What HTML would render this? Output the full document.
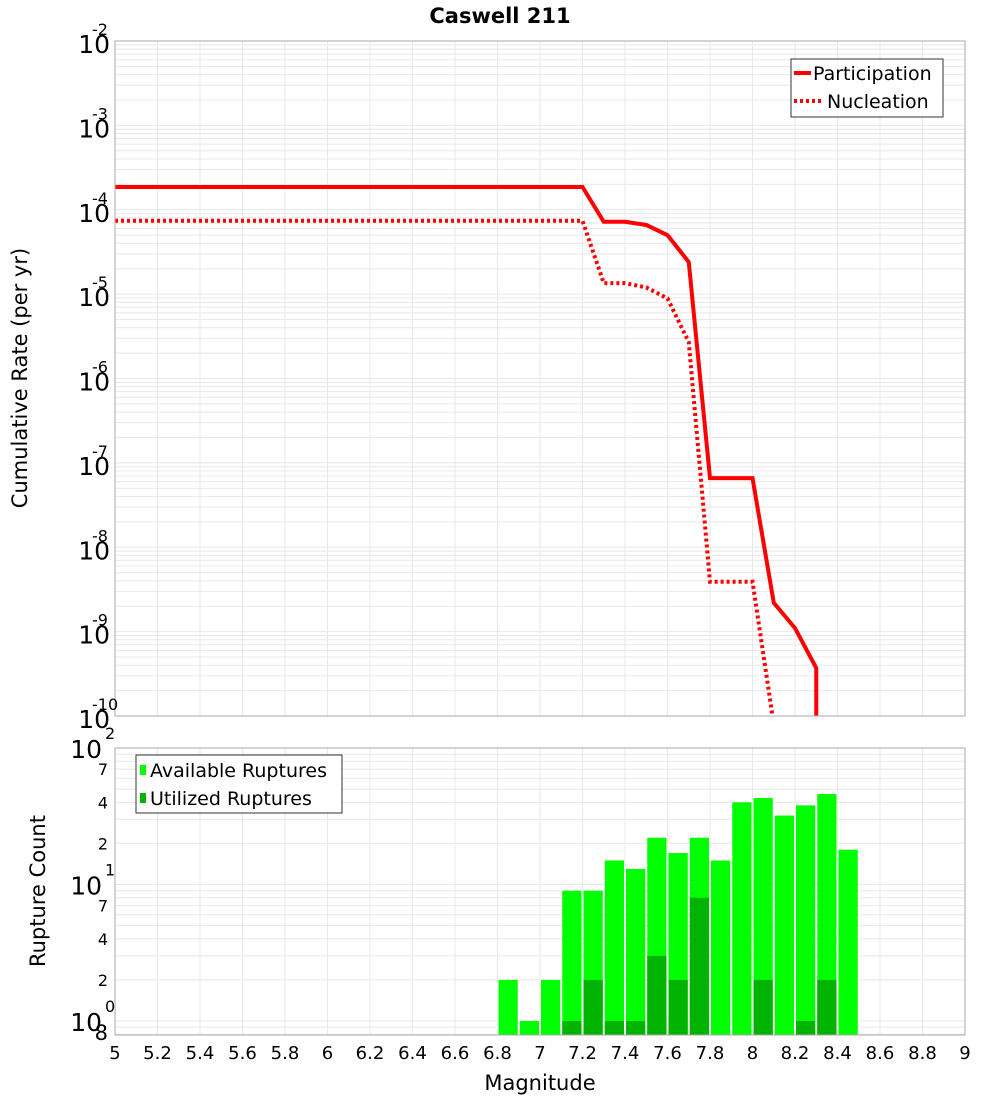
<!DOCTYPE html>
<html><head><meta charset="utf-8"><style>
body{margin:0;background:#fff;font-family:"Liberation Sans","DejaVu Sans",sans-serif}
svg text{font-family:"DejaVu Sans","Liberation Sans",sans-serif}
</style></head><body>
<svg id="c" width="1000" height="1100" xmlns="http://www.w3.org/2000/svg">
<text x="500" y="23" text-anchor="middle" font-size="21" font-weight="bold">Caswell 211</text>
<text transform="translate(27,378) rotate(-90)" text-anchor="middle" font-size="21">Cumulative Rate (per yr)</text>
<text transform="translate(45,891) rotate(-90)" text-anchor="middle" font-size="21">Rupture Count</text>
<text x="540" y="1090" text-anchor="middle" font-size="21">Magnitude</text>
<g id="g"></g>
</svg>
<script>
const mags=[5,7.2,7.3,7.4,7.5,7.6,7.7,7.8,7.9,8.0,8.1,8.2,8.3];
const partRate=[1.86e-4,1.86e-4,7.2e-5,7.2e-5,6.6e-5,5.0e-5,2.4e-5,6.6e-8,6.6e-8,6.6e-8,2.2e-9,1.1e-9,3.7e-10];
const nuclMags=[5,7.2,7.3,7.4,7.5,7.6,7.7,7.8,7.9,8.0,8.1];
const nuclRate=[7.4e-5,7.4e-5,1.35e-5,1.35e-5,1.2e-5,8.9e-6,2.7e-6,3.9e-9,3.9e-9,3.9e-9,8e-11];
const binMags=[6.8,6.9,7.0,7.1,7.2,7.3,7.4,7.5,7.6,7.7,7.8,7.9,8.0,8.1,8.2,8.3,8.4];
const availCounts=[2,1,2,9,9,15,13,22,17,22,15,40,43,32,38,46,18];
const usedCounts=[0,0,0,1,2,1,1,3,2,8,0,0,2,0,1,2,0];
const xTicks=[5,5.2,5.4,5.6,5.8,6,6.2,6.4,6.6,6.8,7,7.2,7.4,7.6,7.8,8,8.2,8.4,8.6,8.8,9];

const NS="http://www.w3.org/2000/svg";
const g=document.getElementById('g');
function el(t,a,p){const e=document.createElementNS(NS,t);for(const k in a)e.setAttribute(k,a[k]);(p||g).appendChild(e);return e;}
const X0=115,X1=965;
const x=m=>X0+(m-5)/4*(X1-X0);
const T0=41,T1=716;
const yT=v=>T0+(-2-Math.log10(v))/8*(T1-T0);
const B0=748,B1=1035,Bd=136.5,B10=1021;
const yB=v=>B10-Math.log10(v)*Bd;

// top panel
let r=el('rect',{x:X0,y:T0,width:X1-X0,height:T1-T0,fill:'#fff'});

for(let d=-10;d<-2;d++)for(let k=1;k<10;k++){const yy=yT(k*Math.pow(10,d));el('line',{x1:X0,x2:X1,y1:yy,y2:yy,stroke:'#e8e8e8','stroke-width':1});}
xTicks.forEach(m=>el('line',{x1:x(m),x2:x(m),y1:T0,y2:T1,stroke:'#e8e8e8','stroke-width':1}));
const clipT=el('clipPath',{id:'ct'});el('rect',{x:X0,y:T0,width:X1-X0,height:T1-T0},clipT);
let pp=mags.map((m,i)=>x(m)+','+yT(partRate[i])).join(' ');
pp+=' '+x(mags[mags.length-1])+','+(T1+20);
let l1=el('polyline',{points:pp,fill:'none',stroke:'#ff0000','stroke-width':4,'clip-path':'url(#ct)'});

let np=nuclMags.map((m,i)=>x(m)+','+yT(nuclRate[i])).join(' ');
let l2=el('polyline',{points:np,fill:'none',stroke:'#ff0000','stroke-width':4,'stroke-dasharray':'3,3','clip-path':'url(#ct)'});

el('rect',{x:X0,y:T0,width:X1-X0,height:T1-T0,fill:'none',stroke:'#aaa'});
for(let d=-10;d<=-2;d++){const yy=yT(Math.pow(10,d));
 const t=el('text',{x:110,y:yy+12,'text-anchor':'end','font-size':25});
 
 t.textContent='10';
 const s=el('text',{x:92,y:yy-6,'font-size':16});s.textContent=String(d);}
// top legend
const lg=el('g',{});
el('rect',{x:791,y:59,width:152,height:58,fill:'#fff',stroke:'#333'},lg);
el('line',{x1:794,x2:811,y1:73,y2:73,stroke:'#f00','stroke-width':4},lg);
el('line',{x1:794,x2:824,y1:101,y2:101,stroke:'#f00','stroke-width':4,'stroke-dasharray':'3,3'},lg);
let t1=el('text',{x:813,y:80,'font-size':19},lg);t1.textContent='Participation';
let t2=el('text',{x:827,y:108,'font-size':19},lg);t2.textContent='Nucleation';

// bottom panel
r=el('rect',{x:X0,y:B0,width:X1-X0,height:B1-B0,fill:'#fff'});

for(let d=-1;d<2;d++)for(let k=1;k<10;k++){const v=k*Math.pow(10,d);const yy=yB(v);if(yy<B0||yy>B1)continue;el('line',{x1:X0,x2:X1,y1:yy,y2:yy,stroke:'#e8e8e8','stroke-width':1});}
xTicks.forEach(m=>el('line',{x1:x(m),x2:x(m),y1:B0,y2:B1,stroke:'#e8e8e8','stroke-width':1}));
const bw=x(5.1)-x(5)-2;
binMags.forEach((m,i)=>{
 const a=availCounts[i];
 if(a>0){const yy=yB(a);const b=el('rect',{x:x(m)+1,y:yy,width:bw,height:B1-yy,fill:'#00ff00'});
 }
 const u=usedCounts[i];
 if(u>0){const yy=yB(u);const b=el('rect',{x:x(m)+1,y:yy,width:bw,height:B1-yy,fill:'#00b300'});
 }
});
el('rect',{x:X0,y:B0,width:X1-X0,height:B1-B0,fill:'none',stroke:'#aaa'});
[[0,'10','0'],[1,'10','1'],[2,'10','2']].forEach(([d,b,e])=>{const yy=yB(Math.pow(10,d));
 const t=el('text',{x:102,y:yy+10,'text-anchor':'end','font-size':25});t.textContent=b;
 const s=el('text',{x:105,y:yy-9,'font-size':16});s.textContent=e;});
[[0.8,'8'],[2,'2'],[4,'4'],[7,'7'],[20,'2'],[40,'4'],[70,'7']].forEach(([v,s])=>{
 const t=el('text',{x:108,y:yB(v)+6,'text-anchor':'end','font-size':v<1?21:16});t.textContent=s;
 });
xTicks.forEach(m=>{const t=el('text',{x:x(m),y:1059,'text-anchor':'middle','font-size':18});t.textContent=String(m);
 });
const lg2=el('g',{});
el('rect',{x:136,y:755,width:206,height:58,fill:'#fff',stroke:'#333'},lg2);
el('rect',{x:140,y:765,width:6,height:10,fill:'#00ff00'},lg2);
el('rect',{x:140,y:793,width:6,height:10,fill:'#00b300'},lg2);
let t3=el('text',{x:150,y:777,'font-size':19},lg2);t3.textContent='Available Ruptures';
let t4=el('text',{x:150,y:805,'font-size':19},lg2);t4.textContent='Utilized Ruptures';
</script>
</body></html>
